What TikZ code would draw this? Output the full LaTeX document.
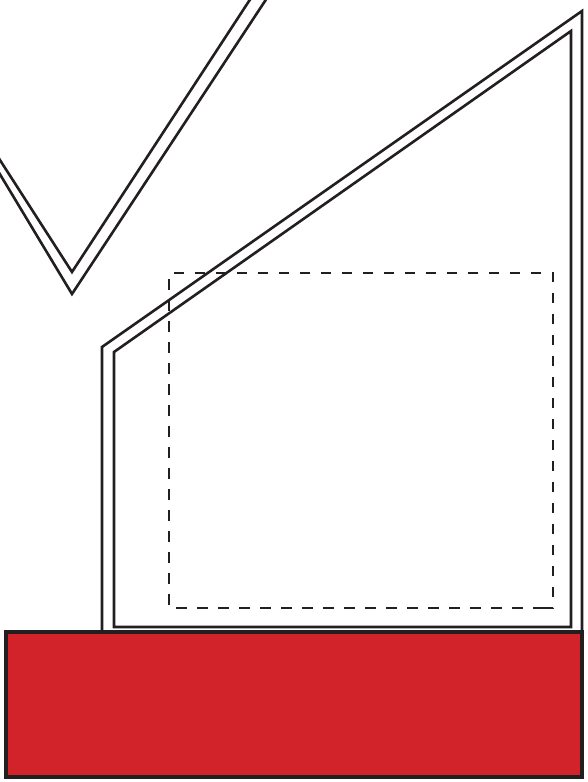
\documentclass[tikz,border=0pt]{standalone}
\definecolor{ink}{HTML}{231F20}
\definecolor{redfill}{HTML}{D2232A}
\begin{document}
\begin{tikzpicture}[x=1pt,y=-1pt,
  outline/.style={draw=ink,line width=2.6pt,line join=miter},
  dashbox/.style={draw=ink,line width=2.8pt,dash pattern=on 10.5pt off 10.5pt}]
\useasboundingbox (0,0) rectangle (588,782);
% red base
\fill[redfill] (6,632) rectangle (582,777);
\draw[ink,line width=3.2pt] (6,632) rectangle (582,777);
% outer house outline
\draw[outline] (102,632) -- (102,347) -- (582,11) -- (582,632);
% inner house outline
\draw[outline] (114,627) -- (114,352) -- (571,31) -- (571,627) -- cycle;
% V shape (double line)
\draw[outline] (-2,157) -- (72,272) -- (251,-2);
\draw[outline] (-2,171) -- (72,294) -- (267,-2);
% dashed rectangle
\draw[dashbox] (543,608) -- (553,608) -- (553,273) -- (169,273) -- (169,608) -- cycle;
\end{tikzpicture}
\end{document}
